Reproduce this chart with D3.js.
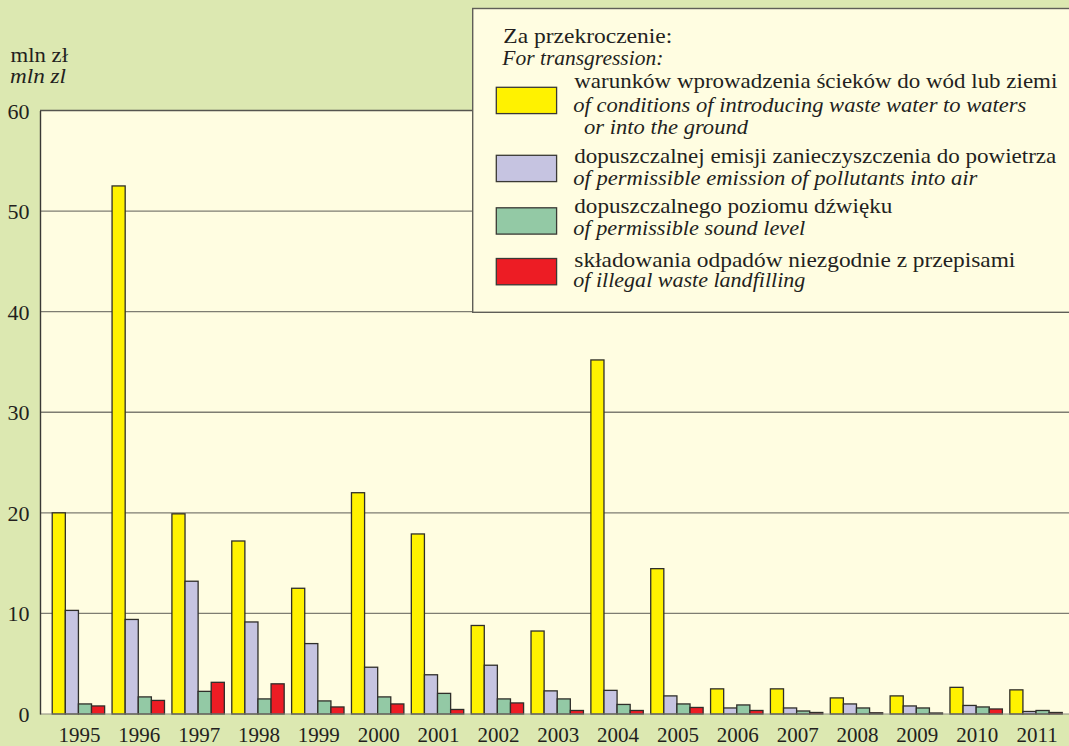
<!DOCTYPE html>
<html>
<head>
<meta charset="utf-8">
<script src="https://cdn.jsdelivr.net/npm/d3@7"></script>
<style>
  html, body { margin: 0; padding: 0; background: #dce8b1; }
  svg { display: block; }
</style>
</head>
<body>
<svg id="chart" width="1069" height="746"></svg>
<script>
// Kary za przekroczenie warunków (mln zł)
const years = ["1995","1996","1997","1998","1999","2000","2001","2002","2003","2004","2005","2006","2007","2008","2009","2010","2011"];
const waterValues = [20.0, 52.5, 19.9, 17.2, 12.5, 22.0, 17.9, 8.8, 8.25, 35.2, 14.45, 2.5, 2.5, 1.6, 1.8, 2.65, 2.4];
const airValues   = [10.3, 9.4, 13.2, 9.15, 7.0, 4.65, 3.9, 4.85, 2.3, 2.35, 1.8, 0.6, 0.6, 1.0, 0.8, 0.85, 0.25];
const soundValues = [1.0, 1.7, 2.25, 1.5, 1.3, 1.7, 2.05, 1.5, 1.5, 0.95, 1.0, 0.9, 0.3, 0.6, 0.6, 0.7, 0.35];
const wasteValues = [0.8, 1.35, 3.15, 3.0, 0.7, 1.0, 0.45, 1.1, 0.35, 0.35, 0.65, 0.35, 0.15, 0.12, 0.1, 0.5, 0.15];
const yTicks = [0, 10, 20, 30, 40, 50, 60];

const seriesKeys = ["water", "air", "sound", "waste"];
const seriesColors = ["#fff200", "#c6c4e1", "#93c9a5", "#ed1c24"];
const legendTitle = ["Za przekroczenie:", "For transgression:"];
const legendPolish = [
  "warunków wprowadzenia ścieków do wód lub ziemi",
  "dopuszczalnej emisji zanieczyszczenia do powietrza",
  "dopuszczalnego poziomu dźwięku",
  "składowania odpadów niezgodnie z przepisami"
];
const legendEnglish = [
  ["of conditions of introducing waste water to waters", "or into the ground"],
  ["of permissible emission of pollutants into air"],
  ["of permissible sound level"],
  ["of illegal waste landfilling"]
];

const data = years.map((yr, i) => ({
  year: yr,
  water: waterValues[i], air: airValues[i], sound: soundValues[i], waste: wasteValues[i]
}));

const FONT = '"Liberation Serif", "Times New Roman", serif';
const textColor = "#231f20";
const svg = d3.select("#chart");
const W = 1069, H = 746;
const plot = { left: 40, right: 1069, top: 110.5, bottom: 714 };

function label(parent, x, y, str, opts = {}) {
  const t = parent.append("text")
    .attr("x", x).attr("y", y)
    .style("font-family", FONT)
    .attr("font-size", opts.size || 22)
    .attr("fill", textColor)
    .text(str);
  if (opts.italic) t.attr("font-style", "italic");
  if (opts.anchor) t.attr("text-anchor", opts.anchor);
  if (opts.width) t.attr("textLength", opts.width).attr("lengthAdjust", "spacingAndGlyphs");
  return t;
}

// background
svg.append("rect").attr("width", W).attr("height", H).attr("fill", "#dce8b1");
svg.append("rect")
  .attr("x", plot.left).attr("y", plot.top)
  .attr("width", plot.right - plot.left).attr("height", plot.bottom - plot.top)
  .attr("fill", "#fffde1");

const y = d3.scaleLinear().domain([0, 60]).range([plot.bottom, plot.top]);
const step = 59.85;
const x = d3.scaleBand().domain(years).range([48.5, 48.5 + 17 * step])
  .paddingInner(1 - 52.4 / step).paddingOuter((1 - 52.4 / step) / 2);
const xs = d3.scaleBand().domain(seriesKeys).range([0, x.bandwidth()]);
const color = d3.scaleOrdinal().domain(seriesKeys).range(seriesColors);

// grid lines
svg.append("g")
  .selectAll("line")
  .data(yTicks.filter(t => t > 0 && t < 60))
  .join("line")
  .attr("x1", plot.left).attr("x2", plot.right)
  .attr("y1", d => y(d)).attr("y2", d => y(d))
  .attr("stroke", "#7e7d72").attr("stroke-width", 1.4);

// top border of the plot area
svg.append("line")
  .attr("x1", plot.left).attr("x2", plot.right)
  .attr("y1", y(60)).attr("y2", y(60))
  .attr("stroke", "#56554f").attr("stroke-width", 1.3);

// bars
const groups = svg.append("g").selectAll("g")
  .data(data).join("g")
  .attr("transform", d => `translate(${x(d.year)},0)`);
groups.selectAll("rect")
  .data(d => seriesKeys.map(k => ({ key: k, value: d[k] })))
  .join("rect")
  .attr("x", d => xs(d.key))
  .attr("y", d => y(d.value))
  .attr("width", xs.bandwidth())
  .attr("height", d => y(0) - y(d.value))
  .attr("fill", d => color(d.key))
  .attr("stroke", "#2f2e2a").attr("stroke-width", 1.3);

// baseline
svg.append("line")
  .attr("x1", plot.left).attr("x2", plot.right)
  .attr("y1", y(0)).attr("y2", y(0))
  .attr("stroke", "#8b8a80").attr("stroke-width", 1.2);

// y axis
const yAxis = d3.axisLeft(y).tickValues(yTicks).tickSize(0).tickPadding(10.5);
const yg = svg.append("g").attr("transform", `translate(${plot.left},0)`).call(yAxis);
yg.select(".domain").attr("stroke", "#3a3935").attr("stroke-width", 1.4);
yg.selectAll("text")
  .style("font-family", FONT)
  .attr("font-size", 22).attr("fill", textColor).attr("dy", 7.5);

// x axis labels
const xAxis = d3.axisBottom(x).tickSize(0).tickPadding(0);
const xg = svg.append("g").attr("transform", `translate(0,${plot.bottom})`).call(xAxis);
xg.select(".domain").remove();
xg.selectAll("text")
  .style("font-family", FONT)
  .attr("font-size", 21).attr("fill", textColor)
  .attr("dy", 0).attr("y", 27.7).attr("dx", 1);

// unit labels
label(svg, 10.5, 61.7, "mln zł", { width: 57.5 });
label(svg, 10, 83.3, "mln zl", { italic: true, width: 56 });

// legend
const lg = svg.append("g");
lg.append("rect")
  .attr("x", 472.7).attr("y", 8.5).attr("width", 620).attr("height", 303.8)
  .attr("fill", "#fffde1").attr("stroke", "#5f5e57").attr("stroke-width", 1.4);
label(lg, 503.3, 42.7, legendTitle[0], { width: 169 });
label(lg, 502.3, 65, legendTitle[1], { italic: true, width: 161 });

const swatchY = [87.3, 155.3, 207.8, 258.5];
const polishY = [88.3, 162.8, 213.3, 266.5];
const polishW = [483, 482, 318, 441];
const englishY = [[111.7, 134.3], [185], [235.3], [287]];
const englishX = [[573.3, 584], [573.3], [573.3], [573.3]];
const englishW = [[453, 164], [404], [232], [232]];
legendPolish.forEach((txt, i) => {
  lg.append("rect")
    .attr("x", 496.3).attr("y", swatchY[i]).attr("width", 60.3).attr("height", 26.3)
    .attr("fill", seriesColors[i]).attr("stroke", "#3a3935").attr("stroke-width", 1.3);
  label(lg, 574.3, polishY[i], txt, { width: polishW[i] });
  legendEnglish[i].forEach((line, j) => {
    label(lg, englishX[i][j], englishY[i][j], line, { italic: true, width: englishW[i][j] });
  });
});
</script>
</body>
</html>
